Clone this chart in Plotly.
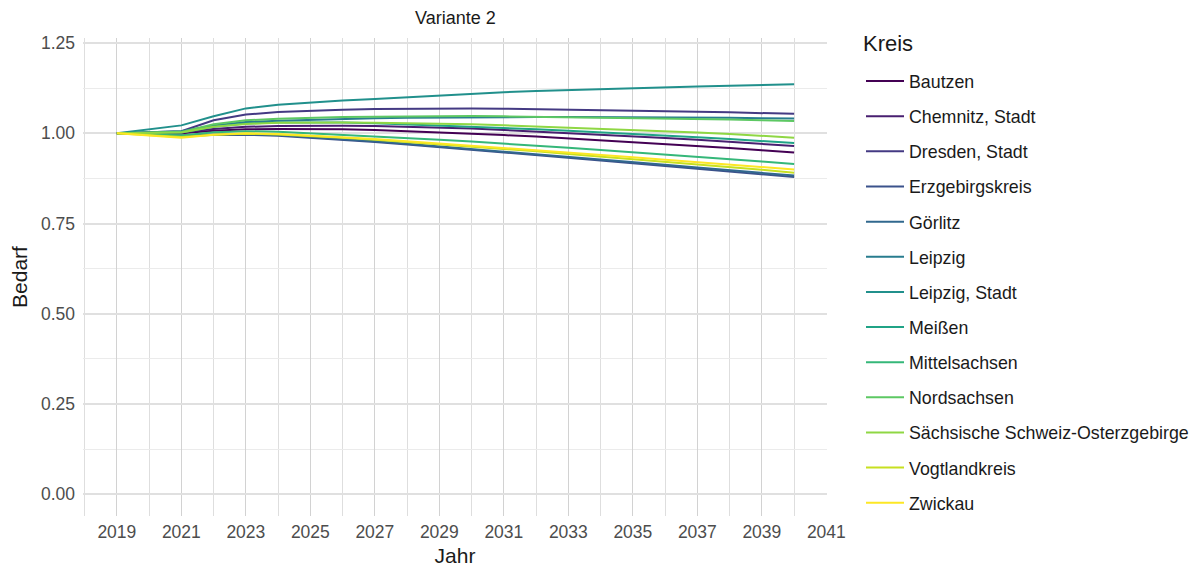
import plotly.graph_objects as go

years = list(range(2019, 2041))

kreise = ["Bautzen", "Chemnitz, Stadt", "Dresden, Stadt", "Erzgebirgskreis", "Görlitz",
          "Leipzig", "Leipzig, Stadt", "Meißen", "Mittelsachsen", "Nordsachsen",
          "Sächsische Schweiz-Osterzgebirge", "Vogtlandkreis", "Zwickau"]

colors = ["#440154", "#481F70", "#443A83", "#3B528B", "#31688E", "#287C8E", "#21908C",
          "#20A386", "#35B779", "#5DC863", "#8FD744", "#C7E020", "#FDE725"]

bautzen = [1.000, 1.000, 1.000, 1.007, 1.011, 1.012, 1.012, 1.011, 1.009, 1.006, 1.003,
           0.999, 0.995, 0.991, 0.986, 0.981, 0.976, 0.971, 0.965, 0.959, 0.953, 0.947]
chemnitz = [1.000, 1.001, 1.002, 1.012, 1.018, 1.020, 1.021, 1.021, 1.020, 1.018, 1.016,
            1.013, 1.009, 1.005, 1.001, 0.996, 0.992, 0.987, 0.982, 0.977, 0.971, 0.965]
dresden = [1.000, 1.003, 1.006, 1.036, 1.052, 1.059, 1.063, 1.065, 1.067, 1.068, 1.069,
           1.069, 1.068, 1.067, 1.066, 1.065, 1.063, 1.062, 1.060, 1.058, 1.056, 1.054]
erzgebirge = [1.000, 0.997, 0.994, 0.995, 0.996, 0.993, 0.988, 0.982, 0.976, 0.969, 0.962,
              0.955, 0.948, 0.940, 0.933, 0.925, 0.917, 0.909, 0.902, 0.894, 0.886, 0.879]
goerlitz = [1.000, 0.997, 0.994, 0.997, 0.998, 0.995, 0.990, 0.984, 0.978, 0.971, 0.964,
            0.957, 0.950, 0.943, 0.935, 0.928, 0.920, 0.913, 0.905, 0.898, 0.890, 0.883]
leipzig = [1.000, 1.003, 1.006, 1.022, 1.031, 1.035, 1.038, 1.040, 1.042, 1.043, 1.044,
           1.045, 1.045, 1.045, 1.045, 1.045, 1.045, 1.044, 1.044, 1.043, 1.042, 1.041]
leipzig_stadt = [1.000, 1.011, 1.022, 1.047, 1.069, 1.079, 1.086, 1.091, 1.095, 1.100, 1.105,
                 1.110, 1.114, 1.117, 1.120, 1.123, 1.126, 1.128, 1.130, 1.132, 1.134, 1.136]
meissen = [1.000, 1.001, 1.002, 1.018, 1.027, 1.030, 1.031, 1.030, 1.028, 1.025, 1.022,
           1.019, 1.015, 1.011, 1.007, 1.003, 0.999, 0.994, 0.989, 0.984, 0.979, 0.973]
mittelsachsen = [1.000, 0.997, 0.994, 1.003, 1.006, 1.004, 1.000, 0.996, 0.992, 0.987, 0.982,
                 0.977, 0.972, 0.966, 0.960, 0.954, 0.948, 0.942, 0.936, 0.929, 0.922, 0.915]
nordsachsen = [1.000, 1.002, 1.004, 1.025, 1.036, 1.040, 1.043, 1.045, 1.046, 1.047, 1.048,
               1.048, 1.047, 1.046, 1.045, 1.044, 1.043, 1.041, 1.040, 1.038, 1.036, 1.034]
saechs_schweiz = [1.000, 1.001, 1.002, 1.018, 1.026, 1.029, 1.030, 1.030, 1.029, 1.028, 1.027,
                  1.025, 1.022, 1.019, 1.016, 1.013, 1.009, 1.006, 1.002, 0.998, 0.993, 0.988]
vogtland = [1.000, 0.995, 0.990, 0.996, 0.999, 0.997, 0.993, 0.988, 0.982, 0.976, 0.970,
            0.964, 0.957, 0.950, 0.943, 0.936, 0.929, 0.922, 0.914, 0.907, 0.899, 0.891]
zwickau = [1.000, 0.994, 0.988, 0.996, 1.000, 0.998, 0.994, 0.989, 0.984, 0.978, 0.972,
           0.966, 0.960, 0.953, 0.947, 0.940, 0.934, 0.927, 0.920, 0.914, 0.907, 0.900]

series = [bautzen, chemnitz, dresden, erzgebirge, goerlitz, leipzig, leipzig_stadt,
          meissen, mittelsachsen, nordsachsen, saechs_schweiz, vogtland, zwickau]

x_ticks = list(range(2019, 2042, 2))
y_ticks = [0.0, 0.25, 0.5, 0.75, 1.0, 1.25]

FONT = "Liberation Sans, Arial, sans-serif"

fig = go.Figure()
for name, vals, col in zip(kreise, series, colors):
    fig.add_trace(go.Scatter(x=years, y=vals, mode="lines", name=name,
                             legendgroup=name,
                             line=dict(color=col, width=2)))

fig.update_layout(
    width=1203, height=565,
    paper_bgcolor="white", plot_bgcolor="white",
    margin=dict(l=75, r=384, t=30, b=57, autoexpand=False),
    font=dict(family=FONT, color="#1a1a1a"),
    showlegend=True,
    legend=dict(
        font=dict(size=17.8, color="#1a1a1a"),
        x=1.0457, xanchor="left", xref="paper", y=0.9477, yanchor="top",
        tracegroupgap=9, itemwidth=38, bgcolor="rgba(0,0,0,0)", maxheight=1,
    ),
    annotations=[
        dict(text="Variante 2", x=0.5, y=1.0, xref="paper", yref="paper",
             xanchor="center", yanchor="bottom", yshift=8, showarrow=False,
             font=dict(size=18, color="#1a1a1a", family=FONT)),
        dict(text="Kreis", x=1.0457, y=0.989, xref="paper", yref="paper",
             xanchor="left", yanchor="middle", showarrow=False,
             font=dict(size=22, color="#1a1a1a", family=FONT)),
    ],
)

fig.update_xaxes(
    range=[2017.95, 2041.02], tickvals=x_ticks, ticktext=[str(v) for v in x_ticks],
    showgrid=True, gridcolor="#d2d2d2", gridwidth=1.3,
    minor=dict(dtick=1, tick0=2019, showgrid=True, gridcolor="#dedede", gridwidth=1),
    zeroline=False, showline=False, ticks="", automargin=False, ticklabelstandoff=3,
    tickfont=dict(size=17.5, color="#4d4d4d"),
    title=dict(text="Jahr", font=dict(size=21, color="#1a1a1a"), standoff=7),
)
fig.update_yaxes(
    range=[-0.06, 1.264], tickvals=y_ticks, ticktext=["%.2f" % v for v in y_ticks],
    showgrid=True, gridcolor="#e0e0e0", gridwidth=1.8,
    minor=dict(dtick=0.125, tick0=0, showgrid=True, gridcolor="#ebebeb", gridwidth=1),
    zeroline=False, showline=False, ticks="", automargin=False, ticklabelstandoff=7,
    tickfont=dict(size=17.5, color="#4d4d4d"),
    title=dict(text="Bedarf", font=dict(size=21, color="#1a1a1a"), standoff=8),
)

fig.write_html("out.html")
